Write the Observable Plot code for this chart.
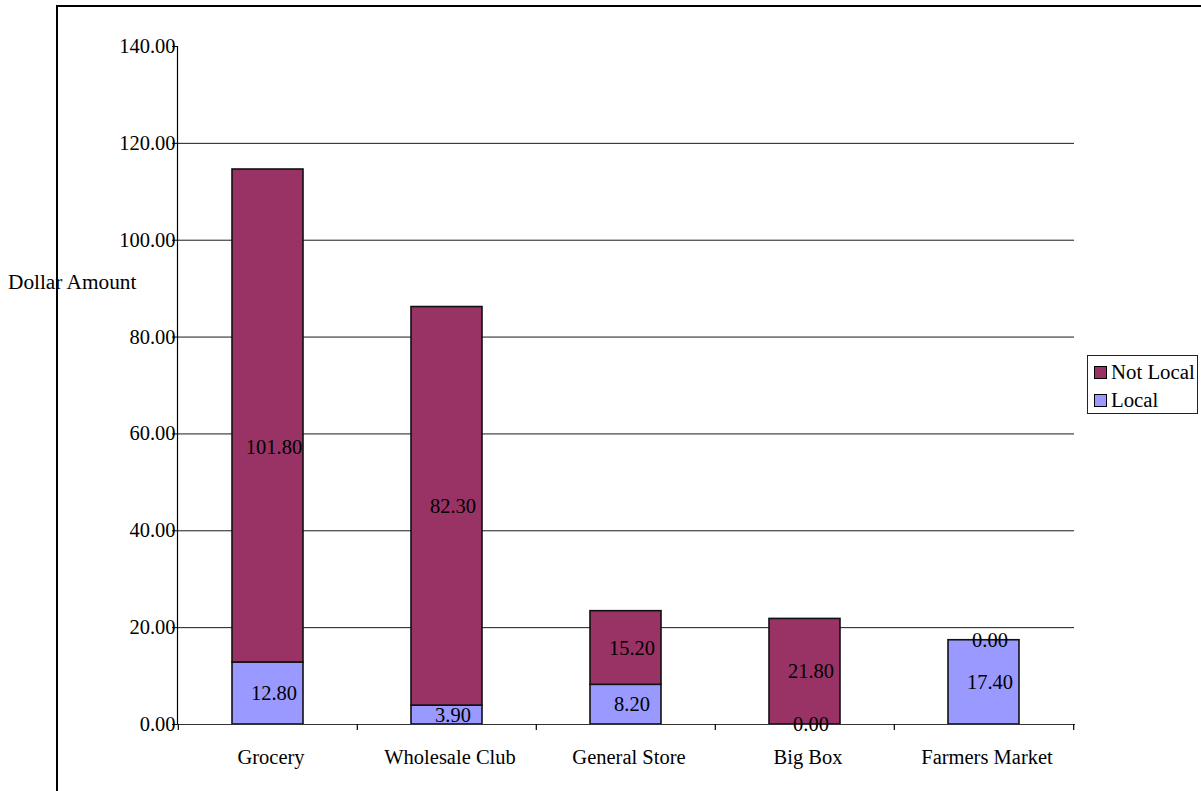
<!DOCTYPE html>
<html>
<head>
<meta charset="utf-8">
<script src="https://cdn.jsdelivr.net/npm/d3@7"></script>
<script src="https://cdn.jsdelivr.net/npm/@observablehq/plot@0.6"></script>
<style>
  html, body { margin: 0; padding: 0; background: #fff; }
  body { width: 1201px; height: 791px; position: relative; overflow: hidden;
         font-family: "Liberation Serif", "Times New Roman", serif; color: #000; }
  #chart { position: absolute; left: 0; top: 0; }
  .ylab { position: absolute; left: 8px; top: 270px; font-size: 21.3px; line-height: 24px; white-space: nowrap; }
  .frame { position: absolute; left: 56px; top: 5px; width: 1300px; height: 900px;
           border-left: 2.5px solid #000; border-top: 2.5px solid #000; box-sizing: border-box; }
  .legend { position: absolute; left: 1087px; top: 355px; width: 111px; height: 59px;
            border: 1.2px solid #222; box-sizing: border-box; background: #fff; font-size: 20.8px; }
  .legend .item { position: absolute; left: 6px; height: 24px; line-height: 24px; white-space: nowrap; }
  .legend .sw { display: inline-block; width: 11px; height: 11px; border: 1.5px solid #000;
                vertical-align: middle; margin-right: 4px; position: relative; top: -2px; }
</style>
</head>
<body>
<div id="chart"></div>
<div class="ylab">Dollar Amount</div>
<div class="frame"></div>
<div class="legend" id="legend"></div>
<script>
const stores = ["Grocery", "Wholesale Club", "General Store", "Big Box", "Farmers Market"];
const localValues = [12.8, 3.9, 8.2, 0, 17.4];
const notLocalValues = [101.8, 82.3, 15.2, 21.8, 0];
const seriesNames = ["Local", "Not Local"];
const seriesColors = ["#9999FF", "#993366"];
const yTicks = [0, 20, 40, 60, 80, 100, 120, 140];
const legendOrder = ["Not Local", "Local"];

const data = [];
stores.forEach((s, i) => {
  data.push({store: s, series: "Local", value: localValues[i]});
  data.push({store: s, series: "Not Local", value: notLocalValues[i]});
});

// Excel placed this one label at the middle of the whole bar
const midBarLabel = d => d.store === "Grocery" && d.series === "Not Local";
const totals = new Map(stores.map((s, i) => [s, localValues[i] + notLocalValues[i]]));

const W = 1201, H = 791, mL = 177, mR = 127, mT = 46, mB = 67;
const step = (W - mL - mR) / stores.length;
const fmt = d3.format(".2f");
const font = "'Liberation Serif', 'Times New Roman', serif";

const chart = Plot.plot({
  width: W, height: H,
  marginLeft: mL, marginRight: mR, marginTop: mT, marginBottom: mB,
  x: {domain: stores, padding: 0, axis: null},
  y: {domain: [0, 140], axis: null},
  color: {domain: seriesNames, range: seriesColors},
  style: {fontFamily: font, fontSize: "20.5px", color: "#000", background: "transparent", overflow: "visible"},
  marks: [
    Plot.gridY(yTicks.filter(t => t > 0 && t < 140), {stroke: "#1a1a1a", strokeOpacity: 1, strokeWidth: 1}),
    Plot.barY(data, {x: "store", y: "value", fill: "series", stroke: "#111", strokeWidth: 1.6,
                     insetLeft: 54, insetRight: 54}),
    Plot.frame({anchor: "left", stroke: "#000", strokeWidth: 1.2}),
    Plot.frame({anchor: "bottom", stroke: "#333", strokeWidth: 1.2}),
    Plot.ruleX(stores, {x: d => d, y1: 0, y2: -1.25, dx: -step / 2, stroke: "#000", strokeWidth: 1.2}),
    Plot.ruleX(stores.slice(-1), {x: d => d, y1: 0, y2: -1.25, dx: step / 2, stroke: "#000", strokeWidth: 1.2}),
    Plot.axisY({ticks: yTicks, tickSize: 5, tickPadding: -3, tickFormat: fmt, fontSize: 20.5,
                stroke: "#000", fill: "#000", label: null}),
    Plot.axisX({tickSize: 0, tickPadding: 25, dx: 3, fontSize: 20.5, fill: "#000", label: null}),
    Plot.text(data, Plot.stackY({x: "store", y: "value", z: "series",
      text: d => midBarLabel(d) ? null : fmt(d.value), dx: 6, fill: "#000", fontSize: 20.5})),
    Plot.text(data.filter(midBarLabel), {x: "store", y: d => totals.get(d.store) / 2,
      text: d => fmt(d.value), dx: 6, fill: "#000", fontSize: 20.5})
  ]
});
document.getElementById("chart").appendChild(chart);

const legend = document.getElementById("legend");
legendOrder.forEach((name, i) => {
  const item = document.createElement("div");
  item.className = "item";
  item.style.top = (4 + i * 28) + "px";
  const sw = document.createElement("span");
  sw.className = "sw";
  sw.style.background = seriesColors[seriesNames.indexOf(name)];
  item.appendChild(sw);
  item.appendChild(document.createTextNode(name));
  legend.appendChild(item);
});
</script>
</body>
</html>
